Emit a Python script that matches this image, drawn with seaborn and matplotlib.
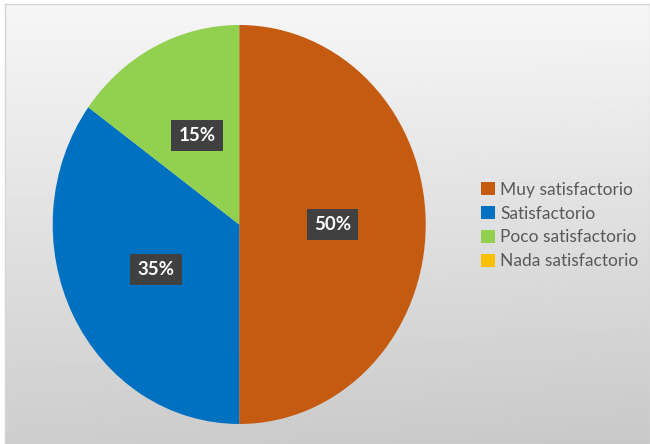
import numpy as np
import matplotlib
matplotlib.use('Agg')
import matplotlib.pyplot as plt
import seaborn as sns

# data
categorias = ['Muy satisfactorio', 'Satisfactorio', 'Poco satisfactorio', 'Nada satisfactorio']
porcentajes = [50, 35, 15, 0]
colores = ['#C55A11', '#0070C0', '#92D050', '#FFC000']

sns.set_theme(style='white')
plt.rcParams['font.family'] = ['Lato', 'DejaVu Sans']

fig = plt.figure(figsize=(6.5, 4.44), dpi=100)
fig.patch.set_facecolor('white')

# gradient background of the chart area
bg = fig.add_axes([5 / 650, 0, 645 / 650, 440 / 444])
yy, xx = np.mgrid[0:1:200j, 0:1:200j]
grad = 0.965 - 0.16 * yy - 0.02 * xx * yy
bg.imshow(grad, cmap='gray', vmin=0, vmax=1, aspect='auto', extent=(0, 1, 1, 0))
bg.set_xticks([])
bg.set_yticks([])
for s in bg.spines.values():
    s.set_color('#d6d6d6')
    s.set_linewidth(1)

# pie
ax = fig.add_axes([52.7 / 650, 20 / 444, 373 / 650, 399 / 444])
wedges, texts, autotexts = ax.pie(
    porcentajes, colors=colores, startangle=90, counterclock=False,
    autopct=lambda p: f'{p:.0f}%' if p > 0 else '', pctdistance=0.5,
    wedgeprops=dict(linewidth=0),
    textprops=dict(color='white', fontsize=13.5, fontweight='bold'))
ax.set_aspect('auto')
ax.set_xlim(-1, 1)
ax.set_ylim(-1, 1)
ax.patch.set_alpha(0)
for t in autotexts:
    t.set_bbox(dict(boxstyle='square,pad=0.38', facecolor='#404040', edgecolor='none'))

leg = fig.legend(wedges, categorias, loc='center left', bbox_to_anchor=(0.727, 0.492),
                 frameon=False, fontsize=12.5, handlelength=0.8, handleheight=0.8,
                 handletextpad=0.3, labelspacing=0.45, borderpad=0)
for t in leg.get_texts():
    t.set_color('#595959')

fig.savefig('out.png', dpi=100)
